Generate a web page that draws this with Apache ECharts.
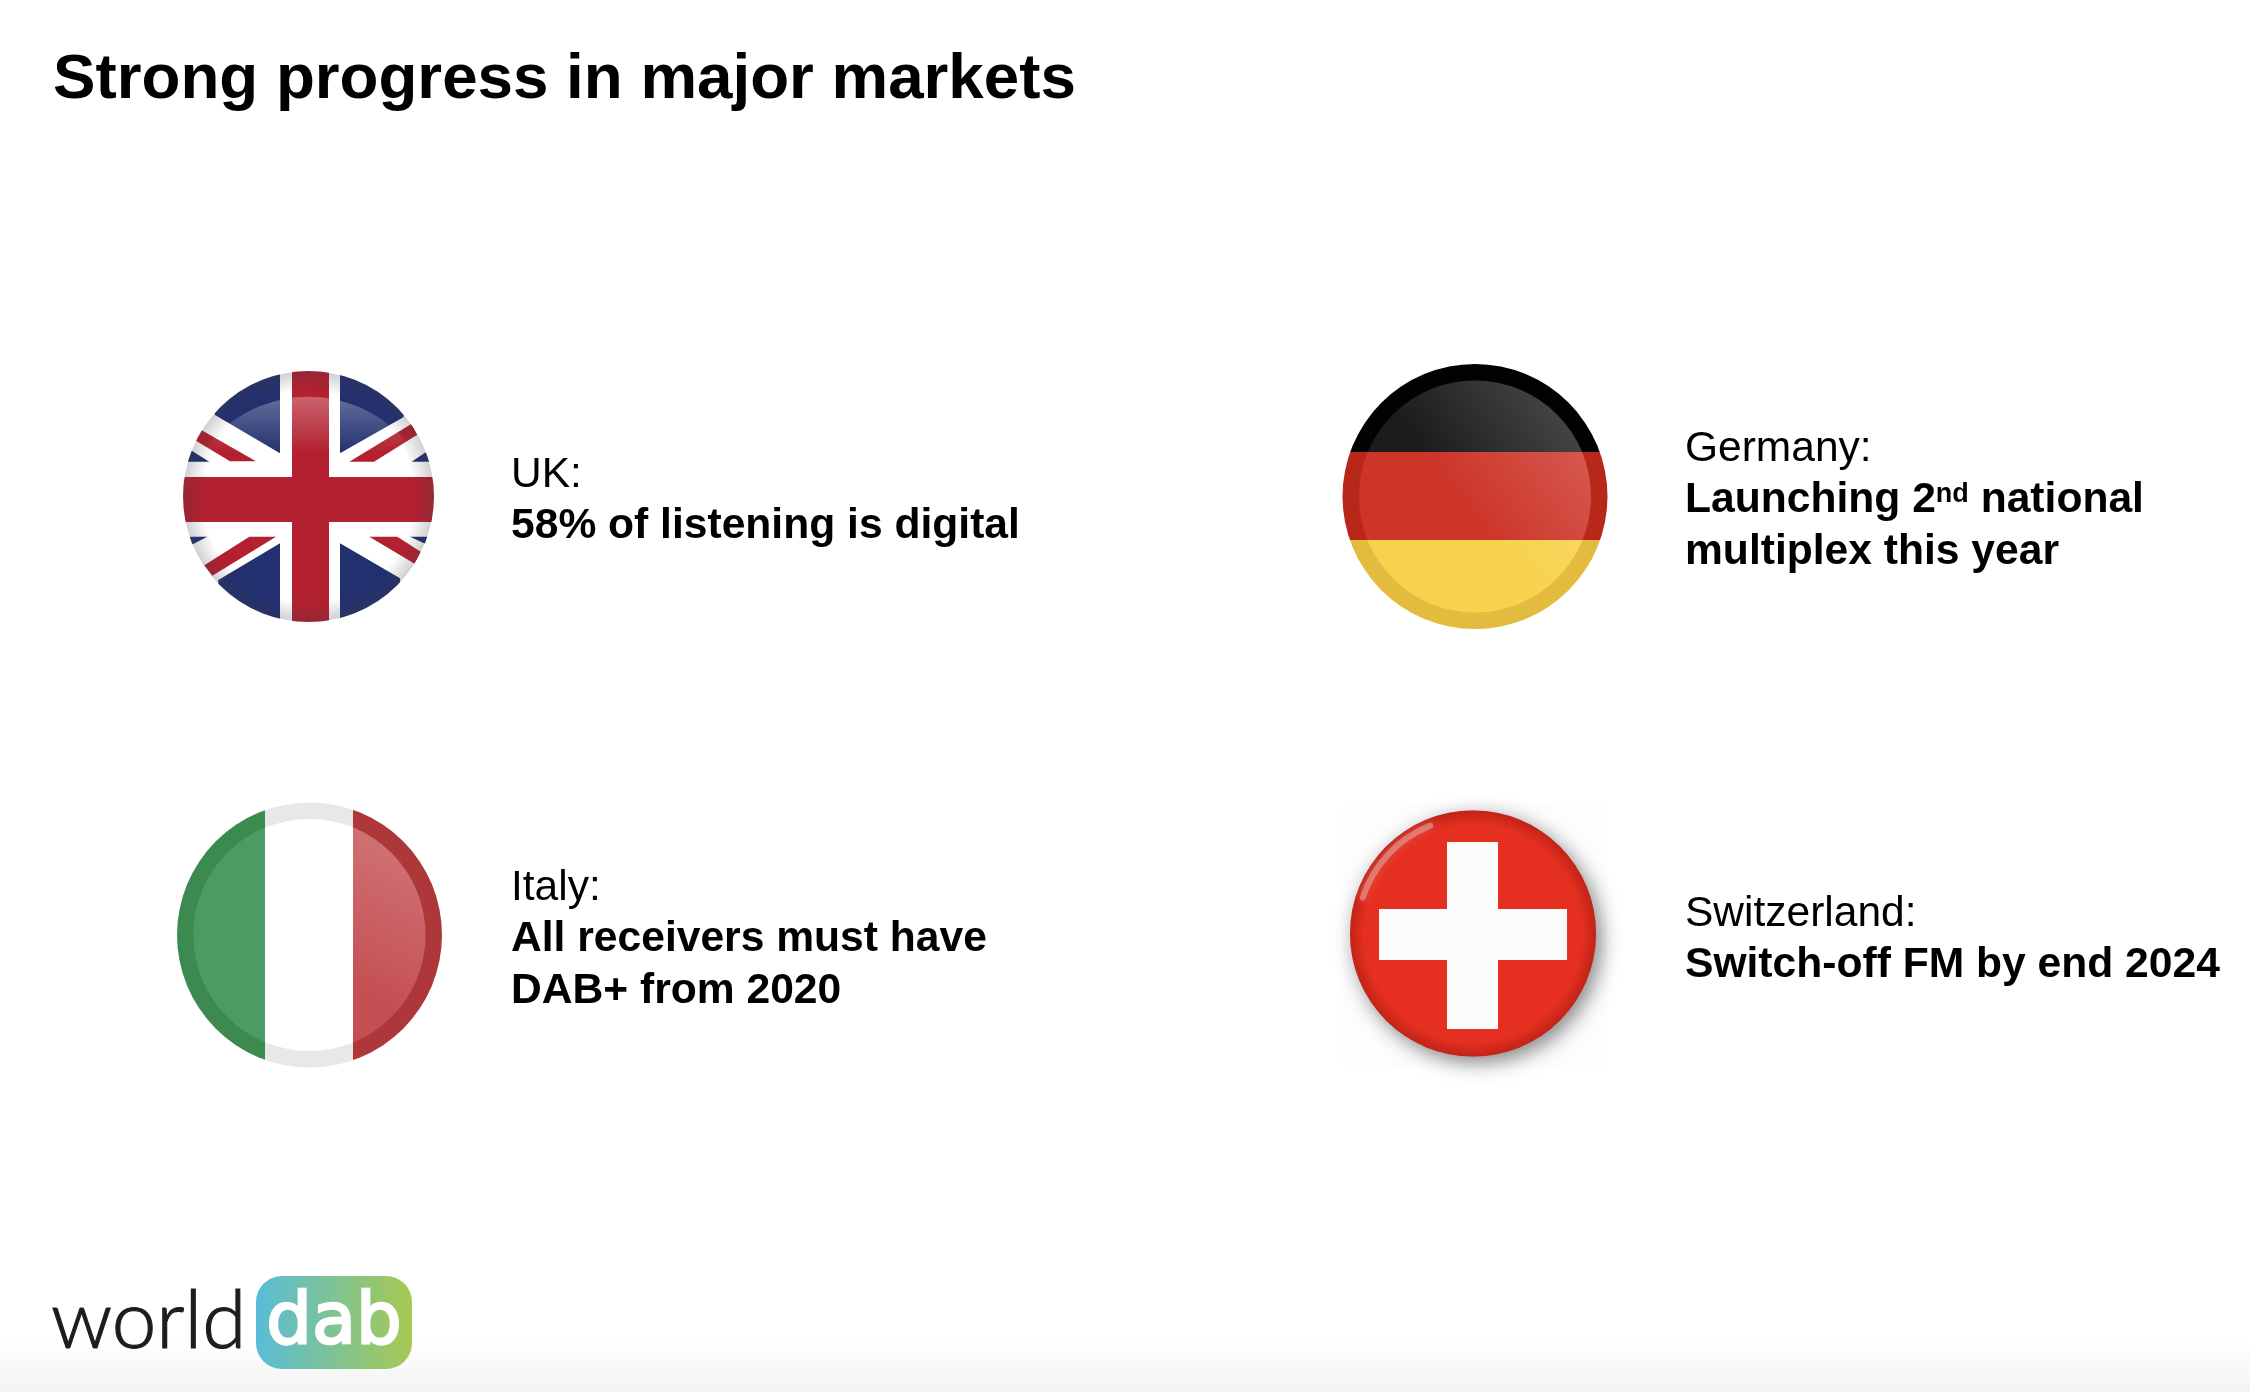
<!DOCTYPE html>
<html>
<head>
<meta charset="utf-8">
<title>Strong progress in major markets</title>
<style>
	html, body { margin: 0; padding: 0; background: #fff; }
	#main { width: 2250px; height: 1392px; }
</style>
<script src="https://cdn.jsdelivr.net/npm/echarts@6/dist/echarts.min.js"></script>
</head>
<body>
<div id="main"></div>
<script>
var titleText = 'Strong progress in major markets';
var countryNames = ['UK:', 'Germany:', 'Italy:', 'Switzerland:'];
var countryLines = [
	['58% of listening is digital'],
	['{b|Launching 2}{sup|nd}{b| national}', 'multiplex this year'],
	['All receivers must have', 'DAB+ from 2020'],
	['Switch-off FM by end 2024']
];
var logoWords = ['world', 'dab'];

var textX = [511, 1685, 511, 1685];
var textY = [475, 449, 888, 914];
var lineGap = 51.6;
var fontName = '"Liberation Sans", Arial, sans-serif';

var elements = [];

function disc(cx, cy, r, fill, extra) {
	var style = { fill: fill };
	for (var key in extra) { style[key] = extra[key]; }
	elements.push({ type: 'circle', shape: { cx: cx, cy: cy, r: r }, style: style, silent: true });
}

// hard stops give stripes clipped by the circle
function stripes(cuts, start, end, colors, vertical) {
	var stops = [];
	var edges = [start].concat(cuts).concat([end]);
	for (var i = 0; i < colors.length; i++) {
		stops.push({ offset: (edges[i] - start) / (end - start), color: colors[i] });
		stops.push({ offset: (edges[i + 1] - start) / (end - start), color: colors[i] });
	}
	return { type: 'linear', x: 0, y: 0, x2: vertical ? 0 : 1, y2: vertical ? 1 : 0, colorStops: stops };
}

function poly(points, fill, ox, oy) {
	var pts = [];
	for (var i = 0; i < points.length; i++) {
		pts.push([ox + points[i][0] / 3, oy + points[i][1] / 3]);
	}
	elements.push({ type: 'polygon', shape: { points: pts }, style: { fill: fill }, silent: true });
}

function rect(x, y, w, h, fill) {
	elements.push({ type: 'rect', shape: { x: x, y: y, width: w, height: h }, style: { fill: fill }, silent: true });
}

function drawUk() {
	var cx = 308.5, cy = 496.5, r = 125.5;
	var ox = 150, oy = 340;
	var blue = '#22306f', red = '#b3202f';
	disc(cx, cy, r, '#ffffff');
	// blue triangles
	poly([[390, 340], [195, 225], [150, 60], [390, 60]], blue, ox, oy);
	poly([[570, 340], [760, 232], [800, 60], [570, 60]], blue, ox, oy);
	poly([[390, 610], [205, 720], [200, 880], [390, 880]], blue, ox, oy);
	poly([[570, 610], [750, 715], [760, 880], [570, 880]], blue, ox, oy);
	poly([[115, 365], [178, 365], [125, 332], [100, 335]], blue, ox, oy);
	poly([[785, 365], [840, 365], [850, 335], [825, 338]], blue, ox, oy);
	poly([[120, 590], [172, 590], [125, 614], [100, 610]], blue, ox, oy);
	poly([[780, 590], [840, 590], [850, 612], [822, 610]], blue, ox, oy);
	// red diagonals
	poly([[150, 268], [318, 364], [240, 364], [138, 302]], red, ox, oy);
	poly([[598, 365], [672, 365], [802, 284], [785, 251]], red, ox, oy);
	poly([[163, 676], [298, 590], [378, 590], [187, 707]], red, ox, oy);
	poly([[658, 590], [742, 590], [812, 635], [795, 672]], red, ox, oy);
	// the cross
	rect(292, 360, 37, 272, red);
	rect(172, 477, 274, 45, red);
	// top shine
	disc(ox + 475 / 3, oy + 558 / 3, 388 / 3, {
		type: 'linear', x: 0, y: 0, x2: 0, y2: 1,
		colorStops: [
			{ offset: 0, color: 'rgba(255,255,255,0.3)' },
			{ offset: 0.22, color: 'rgba(255,255,255,0)' }
		]
	});
	disc(cx, cy, r, {
		type: 'radial', x: 0.5, y: 0.5, r: 0.5,
		colorStops: [
			{ offset: 0.84, color: 'rgba(60,60,70,0)' },
			{ offset: 1, color: 'rgba(60,60,70,0.24)' }
		]
	});
	// white ring trims everything back to the circle
	elements.push({
		type: 'circle',
		shape: { cx: cx, cy: cy, r: r + 30 },
		style: { fill: 'none', stroke: '#ffffff', lineWidth: 60 },
		silent: true
	});
}

function drawGermany() {
	var cx = 1475, cy = 496.5, r = 132.5, inner = 116;
	var cuts = [452, 540];
	disc(cx, cy, r, stripes(cuts, cy - r, cy + r, ['#020202', '#b8281a', '#e2bb3f'], true));
	disc(cx, cy, inner, stripes(cuts, cy - inner, cy + inner, ['#1c1c1c', '#cd3529', '#f8d24c'], true));
	disc(cx, cy, inner, {
		type: 'linear', x: 0.92, y: 0.14, x2: 0.42, y2: 0.5,
		colorStops: [
			{ offset: 0, color: 'rgba(255,255,255,0.19)' },
			{ offset: 1, color: 'rgba(255,255,255,0)' }
		]
	});
}

function drawItaly() {
	var cx = 309.5, cy = 935, r = 132.5, inner = 116;
	var cuts = [265.5, 353.5];
	disc(cx, cy, r, stripes(cuts, cx - r, cx + r, ['#3c8a4f', '#e8e8e8', '#ae3739'], false));
	disc(cx, cy, inner, stripes(cuts, cx - inner, cx + inner, ['#4d9b64', '#ffffff', '#c44f52'], false));
	disc(cx, cy, inner, {
		type: 'linear', x: 0.9, y: 0.1, x2: 0.6, y2: 0.7,
		colorStops: [
			{ offset: 0, color: 'rgba(255,255,255,0.2)' },
			{ offset: 1, color: 'rgba(255,255,255,0)' }
		]
	});
	// the shine only shows on the red stripe
	disc(cx, cy, inner, stripes(cuts, cx - inner, cx + inner, ['#4d9b64', 'rgba(255,255,255,0)', 'rgba(255,255,255,0)'], false));
}

function drawSwiss() {
	var cx = 1473, cy = 933.5, r = 123;
	rect(1343, 803, 264, 264, '#fdfdfd');
	disc(cx, cy, r, '#e53021', { shadowColor: 'rgba(0,0,0,0.48)', shadowBlur: 20, shadowOffsetX: 5, shadowOffsetY: 6 });
	disc(cx, cy, r, {
		type: 'radial', x: 0.5, y: 0.5, r: 0.5,
		colorStops: [
			{ offset: 0.88, color: 'rgba(150,20,10,0)' },
			{ offset: 1, color: 'rgba(150,20,10,0.45)' }
		]
	});
	elements.push({
		type: 'arc',
		shape: { cx: cx, cy: cy, r: r - 7, startAngle: Math.PI * 1.1, endAngle: Math.PI * 1.38, clockwise: true },
		style: { fill: 'none', stroke: 'rgba(255,255,255,0.3)', lineWidth: 6, lineCap: 'round', shadowBlur: 8, shadowColor: 'rgba(255,255,255,0.7)' },
		silent: true
	});
	rect(1447, 842, 51, 187, '#fbfbfb');
	rect(1379, 909, 188, 51, '#fbfbfb');
}

function drawText() {
	elements.push({
		type: 'text', x: 53, y: 80.5,
		style: { text: titleText, font: 'bold 63.7px ' + fontName, fill: '#000', verticalAlign: 'middle' }
	});
	for (var i = 0; i < countryNames.length; i++) {
		elements.push({
			type: 'text', x: textX[i], y: textY[i],
			style: { text: countryNames[i], font: '42.5px ' + fontName, fill: '#000', verticalAlign: 'middle' }
		});
		for (var j = 0; j < countryLines[i].length; j++) {
			elements.push({
				type: 'text', x: textX[i], y: textY[i] + lineGap * (j + 1),
				style: {
					text: countryLines[i][j],
					font: 'bold 42.6px ' + fontName,
					fill: '#000',
					verticalAlign: 'middle',
					rich: {
						b: { font: 'bold 42.6px ' + fontName, fill: '#000', lineHeight: 50 },
						sup: { font: 'bold 27px ' + fontName, fill: '#000', lineHeight: 44, verticalAlign: 'bottom', padding: [0, 0, 18, 0] }
					}
				}
			});
		}
	}
}

function drawLogo() {
	rect(0, 1340, 2250, 52, {
		type: 'linear', x: 0, y: 0, x2: 0, y2: 1,
		colorStops: [{ offset: 0, color: '#ffffff' }, { offset: 1, color: '#f3f3f3' }]
	});
	elements.push({
		type: 'rect',
		shape: { x: 256, y: 1276, width: 156, height: 93, r: 26 },
		style: {
			fill: {
				type: 'linear', x: 0, y: 0, x2: 1, y2: 0,
				colorStops: [{ offset: 0, color: '#59bcd8' }, { offset: 1, color: '#a6c951' }]
			}
		},
		silent: true
	});
	elements.push({
		type: 'text', x: 51, y: 1322,
		style: { text: logoWords[0], font: '300 80px Lato, sans-serif', fill: '#1d1d1b', stroke: '#1d1d1b', lineWidth: 1.2, verticalAlign: 'middle' }
	});
	elements.push({
		type: 'text', x: 334, y: 1324,
		style: { text: logoWords[1], font: '72px "DejaVu Sans", sans-serif', fill: '#ffffff', stroke: '#ffffff', lineWidth: 2.5, align: 'center', verticalAlign: 'middle' }
	});
}

drawLogo();
drawUk();
drawGermany();
drawItaly();
drawSwiss();
drawText();

var chart = echarts.init(document.getElementById('main'));
chart.setOption({
	backgroundColor: '#ffffff',
	animation: false,
	graphic: { elements: elements }
});
</script>
</body>
</html>
